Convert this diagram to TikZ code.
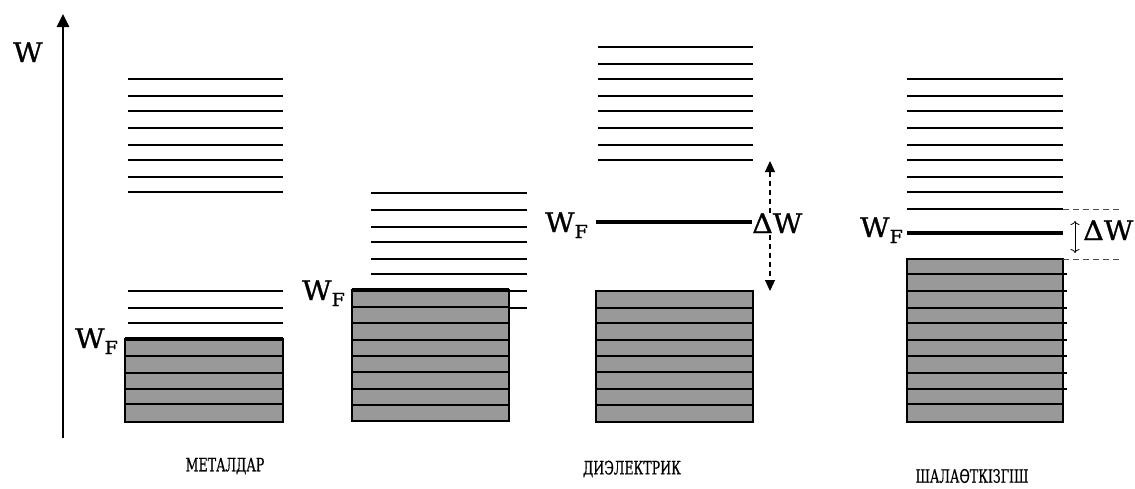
\documentclass[tikz,border=0pt]{standalone}
\usepackage{fontspec}
\newfontfamily\lblfont[FakeStretch=0.68,FakeBold=0.6]{DejaVu Serif}
\newfontfamily\symfont[FakeStretch=1.06,FakeBold=1]{DejaVu Serif}
\usetikzlibrary{arrows.meta}
\definecolor{bandgray}{RGB}{153,153,153}
\newcommand{\fermisym}{W\raisebox{-6pt}{\fontsize{18}{18}\selectfont F}}
\begin{document}
\begin{tikzpicture}[x=1pt,y=-1pt,
  level/.style={line width=1.2pt},
  fermi/.style={line width=3.6pt},
  band/.style={fill=bandgray,draw=black,line width=1.4pt},
  sym/.style={font=\symfont\fontsize{27}{30}\selectfont,inner sep=0pt},
  caption/.style={font=\lblfont\fontsize{18.5}{20}\selectfont,inner sep=0pt},
  gapline/.style={dashed,dash pattern=on 6pt off 4pt,line width=0.9pt,black!70}]
\useasboundingbox (0,0) rectangle (1135,488);

% energy axis
\coordinate (axbot) at (63,438);
\coordinate (axtop) at (63,14);
\draw[line width=2.6pt,-{Triangle[length=13pt,width=12pt]}] (axbot) -- (axtop);
\node[sym,anchor=base west] (waxis) at (13,62) {W};

% ---- metal 1: partially filled band
\foreach \y in {79,96,111,128,145,160,177,192,291,308,323}
  \draw[level] (128,\y) -- (283,\y);
\draw[band] (125,339) rectangle (283,422);
\foreach \y in {356,373,389,404}
  \draw[level] (125,\y) -- (283,\y);
\draw[fermi] (125,339) -- (283,339);
\node[sym,anchor=base east] (wfa) at (118,348) {\fermisym};

% ---- metal 2: overlapping bands
\foreach \y in {193,210,227,242,259,274,291,308}
  \draw[level] (371,\y) -- (527,\y);
\draw[band] (352,290) rectangle (509,421);
\foreach \y in {307,323,340,356,372,389,405}
  \draw[level] (352,\y) -- (509,\y);
\draw[fermi] (352,290) -- (509,290);
\node[sym,anchor=base east] (wfb) at (345,300) {\fermisym};

% ---- dielectric: wide gap
\foreach \y in {47,64,79,96,111,128,145,160}
  \draw[level] (598,\y) -- (753,\y);
\draw[band] (596,291) rectangle (753,422);
\foreach \y in {308,323,340,356,372,389,405}
  \draw[level] (596,\y) -- (753,\y);
\draw[fermi] (596,222) -- (752,222);
\node[sym,anchor=base east] (wfc) at (588,232) {\fermisym};
\coordinate (gcTop) at (770,161);
\coordinate (gcBot) at (770,291);
\draw[dashed,dash pattern=on 5pt off 4pt,line width=1.1pt,
  {Triangle[length=11pt,width=10pt]}-{Triangle[length=11pt,width=10pt]}] (gcTop) -- (gcBot);
\node[sym,anchor=base west,fill=white] (dwc) at (752,233) {ΔW};

% ---- semiconductor: narrow gap
\foreach \y in {79,96,111,128,145,160,177,192,209}
  \draw[level] (907,\y) -- (1063,\y);
\draw[band] (907,259) rectangle (1063,422);
\foreach \y in {274,291,308,323,340,356,373,389}
  \draw[level] (907,\y) -- (1067,\y);
\draw[level] (907,404) -- (1063,404);
\draw[fermi] (907,233) -- (1063,233);
\node[sym,anchor=base east] (wfd) at (903,237) {\fermisym};
\coordinate (gdTop) at (1120,209);
\coordinate (gdBot) at (1120,259);
\draw[gapline] (1063,209) -- (gdTop);
\draw[gapline] (1063,259) -- (gdBot);
\coordinate (sdTop) at (1075,221);
\coordinate (sdBot) at (1075,253);
\draw[line width=0.8pt,{To[length=4pt,width=9pt]}-{To[length=4pt,width=9pt]}] (sdTop) -- (sdBot);
\node[sym,anchor=base west] (dwd) at (1083,240) {ΔW};

% captions
\node[caption] (capa) at (225,466) {МЕТАЛДАР};
\node[caption] (capc) at (632,469) {ДИЭЛЕКТРИК};
\node[caption] (capd) at (972,476) {ШАЛАӨТКІЗГІШ};
\end{tikzpicture}
\end{document}
